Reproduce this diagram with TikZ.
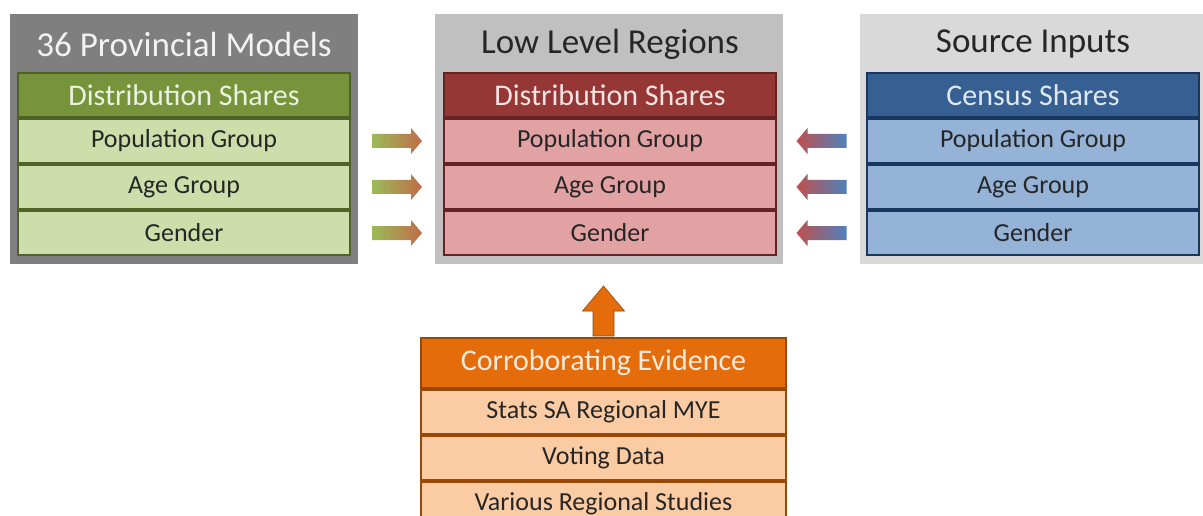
\documentclass[tikz,border=0pt]{standalone}
\usepackage{fontspec}
\setmainfont{Carlito}
\usetikzlibrary{positioning,calc}

\definecolor{grpdark}{RGB}{127,127,127}
\definecolor{grpmid}{RGB}{192,192,192}
\definecolor{grplight}{RGB}{217,217,217}
\definecolor{grnhead}{RGB}{119,147,60}
\definecolor{grnrow}{RGB}{205,222,170}
\definecolor{grnline}{RGB}{79,98,40}
\definecolor{redhead}{RGB}{149,55,53}
\definecolor{redrow}{RGB}{226,162,163}
\definecolor{redline}{RGB}{99,36,35}
\definecolor{bluhead}{RGB}{54,96,146}
\definecolor{bluerow}{RGB}{149,179,215}
\definecolor{bluline}{RGB}{23,55,94}
\definecolor{orghead}{RGB}{228,108,10}
\definecolor{orgrow}{RGB}{251,203,163}
\definecolor{orgline}{RGB}{152,72,7}
\definecolor{txtdark}{RGB}{38,38,38}
\definecolor{argreen}{RGB}{155,187,89}
\definecolor{arbrown}{RGB}{192,108,72}
\definecolor{arred}{RGB}{192,80,77}
\definecolor{arblue}{RGB}{79,129,189}

\tikzset{
  rarrow/.pic={\shade[left color=argreen,right color=arbrown]
    (-25,-7) -- (14,-7) -- (14,-13) -- (25,0) -- (14,13) -- (14,7) -- (-25,7) -- cycle;},
  larrow/.pic={\shade[left color=arred,right color=arblue]
    (25,-7) -- (-14,-7) -- (-14,-13) -- (-25,0) -- (-14,13) -- (-14,7) -- (25,7) -- cycle;}
}

\begin{document}
\begin{tikzpicture}[x=1pt,y=-1pt,
  panel/.style={fill=#1,minimum width=348pt,minimum height=250pt,inner sep=0pt,anchor=north west},
  ptitle/.style={text=#1,font=\fontsize{35}{35}\selectfont},
  shead/.style={draw=#1,line width=2pt,minimum width=332pt,minimum height=44pt,inner sep=0pt,
    font=\fontsize{30}{30}\selectfont},
  srow/.style={draw=#1,line width=2pt,minimum width=332pt,minimum height=44pt,inner sep=0pt,
    text=txtdark,font=\fontsize{26}{26}\selectfont}
]
\useasboundingbox (0,0) rectangle (1203,516);

% panels
\node[panel=grpdark] (lpanel) at (10,14) {};
\node[panel=grpmid] (mpanel) at (435,14) {};
\node[panel=grplight] (rpanel) at (860,14) {};

\node[ptitle={white!95!black}] (ltitle) at (184,44) {36 Provincial Models};
\node[ptitle=txtdark] (mtitle) at (610,44) {Low Level Regions};
\node[ptitle=txtdark] (rtitle) at (1033,44) {Source Inputs};

% provincial models
\node[shead=grnline,fill=grnhead,text=grnrow!40!white] (lhead) at (184,95) {Distribution Shares};
\node[srow=grnline,fill=grnrow,below=0pt of lhead] (lpop) {Population Group};
\node[srow=grnline,fill=grnrow,below=0pt of lpop] (lage) {Age Group};
\node[srow=grnline,fill=grnrow,below=0pt of lage] (lgen) {Gender};

% low level regions
\node[shead=redline,fill=redhead,text=redrow!30!white] (mhead) at (610,95) {Distribution Shares};
\node[srow=redline,fill=redrow,below=0pt of mhead] (mpop) {Population Group};
\node[srow=redline,fill=redrow,below=0pt of mpop] (mage) {Age Group};
\node[srow=redline,fill=redrow,below=0pt of mage] (mgen) {Gender};

% source inputs
\node[shead=bluline,fill=bluhead,text=bluerow!30!white] (rhead) at (1033,95) {Census Shares};
\node[srow=bluline,fill=bluerow,below=0pt of rhead] (rpop) {Population Group};
\node[srow=bluline,fill=bluerow,below=0pt of rpop] (rage) {Age Group};
\node[srow=bluline,fill=bluerow,below=0pt of rage] (rgen) {Gender};

% corroborating evidence
\node[shead=orgline,fill=orghead,text=orgrow!40!white,minimum width=365pt,minimum height=50pt]
  (bhead) at (603.5,363) {Corroborating Evidence};
\node[srow=orgline,fill=orgrow,minimum width=365pt,below=0pt of bhead] (bmye) {Stats SA Regional MYE};
\node[srow=orgline,fill=orgrow,minimum width=365pt,below=0pt of bmye] (bvote) {Voting Data};
\node[srow=orgline,fill=orgrow,minimum width=365pt,below=0pt of bvote] (bstud) {Various Regional Studies};

% arrows
\foreach \r in {pop,age,gen}{
  \pic at ($(l\r.east)!.5!(m\r.west)$) {rarrow};
  \pic at ($(m\r.east)!.5!(r\r.west)$) {larrow};
}
\fill[orghead,draw=orgline,line width=0.6pt] ($(bhead.north)+(-10.5,-1)$) -- ++(0,-25) -- ++(-10.5,0)
  -- ++(21,-25) -- ++(21,25) -- ++(-10.5,0) -- ++(0,25) -- cycle;
\end{tikzpicture}
\end{document}
